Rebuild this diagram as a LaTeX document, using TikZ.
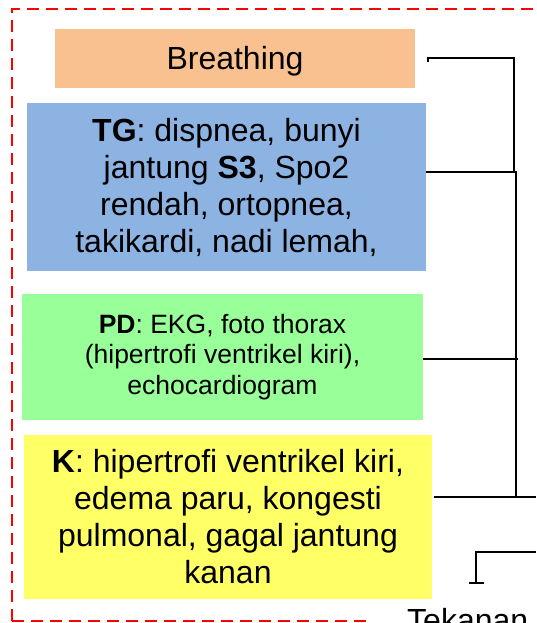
\documentclass[tikz,border=0pt]{standalone}
\usepackage{fontspec}
\setmainfont{Liberation Sans}
\begin{document}
\begin{tikzpicture}[x=1pt,y=-1pt,
  boxbase/.style={rectangle, inner sep=0pt, align=center, text=black},
  bigtext/.style={font=\fontsize{32}{37}\selectfont},
  smalltext/.style={font=\fontsize{26.5}{30.5}\selectfont},
  conn/.style={draw=black, line width=1.8pt},
  frameline/.style={draw=red, line width=2pt, dash pattern=on 12pt off 7pt}]
\definecolor{peach}{HTML}{F9C18F}
\definecolor{skyblue}{HTML}{8DB3E2}
\definecolor{mint}{HTML}{99FF99}
\definecolor{lemon}{HTML}{FFFF66}
\useasboundingbox (0,0) rectangle (536,623);
\begin{scope}
\clip (0,0) rectangle (536,623);
% dashed frame around the groups
\draw[frameline] (12,621) -- (12,9) -- (620,9);
\draw[frameline] (12,621) -- (368,621);

% boxes
\node[boxbase, bigtext, fill=peach, minimum width=360pt, minimum height=59pt,
      text height=23pt, text depth=0pt] (breath) at (235,58.5) {Breathing};
\node[boxbase, bigtext, fill=skyblue, minimum width=399pt, minimum height=168pt] (tg) at (226.5,187)
  {\textbf{TG}: dispnea, bunyi\\ jantung \textbf{S3}, Spo2\\ rendah, ortopnea,\\ takikardi, nadi lemah,};
\node[boxbase, smalltext, fill=mint, minimum width=401pt, minimum height=126pt] (pd) at (222.5,357)
  {\textbf{PD}: EKG, foto thorax\\ (hipertrofi ventrikel kiri),\\ echocardiogram};
\node[boxbase, bigtext, fill=lemon, minimum width=408pt, minimum height=164pt] (k) at (228,517)
  {\textbf{K}: hipertrofi ventrikel kiri,\\ edema paru, kongesti\\ pulmonal, gagal jantung\\ kanan};

% bracket joining the four boxes
\coordinate (btick) at (428,62);
\coordinate (spineA) at (514,58);
\coordinate (spineB) at (516,172);
\coordinate (spineC) at (518,359);
\coordinate (spineD) at (516,497);
\coordinate (outK) at (536,497);
\draw[conn] (btick) -- (428,58) -- (spineA) -- (514,172);
\draw[conn] (tg.east |- spineB) -- (spineB) -- (spineD);
\draw[conn] (pd.east |- spineC) -- (spineC);
\draw[conn] ([xshift=2pt]k.east |- outK) -- (outK);

% lower connector
\coordinate (tL) at (469,583);
\coordinate (tR) at (484,583);
\coordinate (tM) at (476,583);
\coordinate (tTop) at (476,552);
\coordinate (tOut) at (536,552);
\draw[conn] (tL) -- (tR);
\draw[conn] (tM) -- (tTop) -- (tOut);

\node[bigtext, anchor=base west, inner sep=0pt] (tekanan) at (407,631) {Tekanan};
\end{scope}
\end{tikzpicture}
\end{document}
